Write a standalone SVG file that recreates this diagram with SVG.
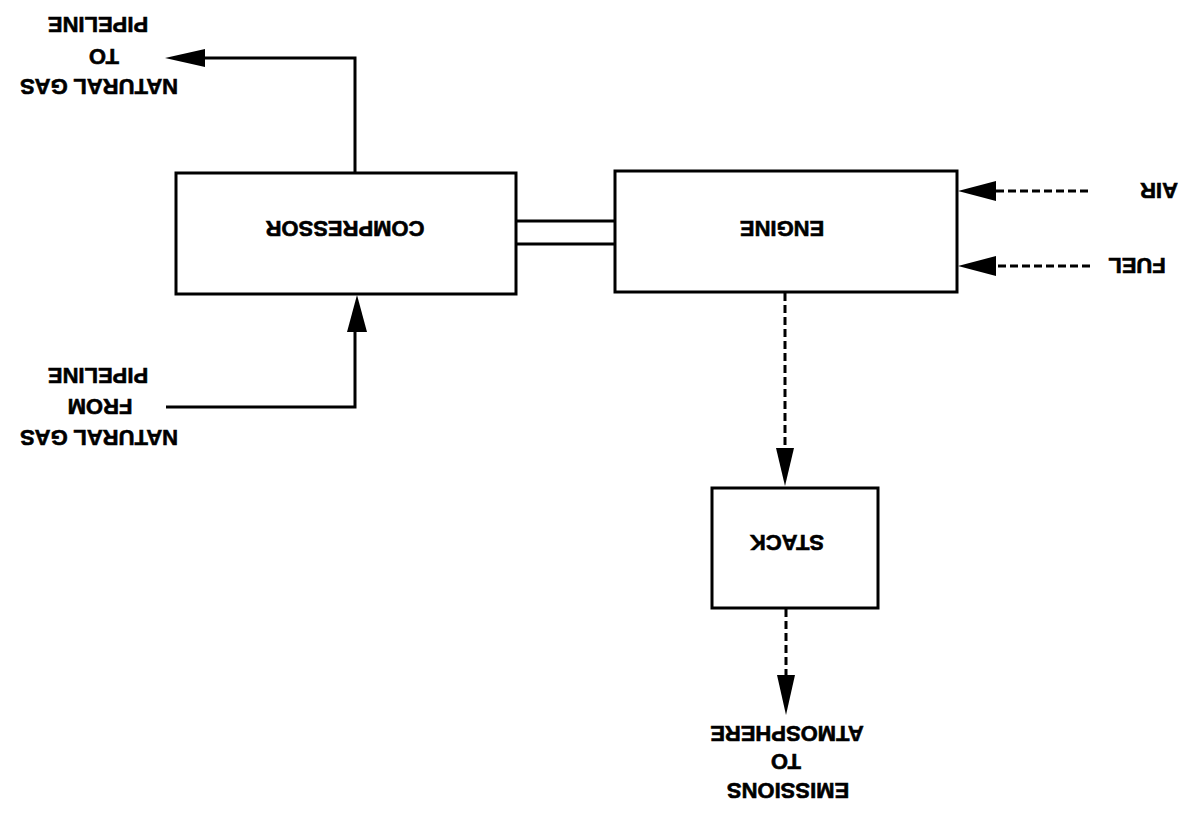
<svg xmlns="http://www.w3.org/2000/svg" width="1179" height="816" viewBox="0 0 1179 816">
<style>
.box{fill:#fff;stroke:#000;stroke-width:3}
.ln{fill:none;stroke:#000;stroke-width:3}
.dash{fill:none;stroke:#000;stroke-width:3;stroke-dasharray:8 4}
.t{font-family:"Liberation Sans",Arial,sans-serif;font-weight:bold;font-size:22px;fill:#000;stroke:#000;stroke-width:0.6;text-anchor:middle}
.ah{fill:#000}
</style>
<rect width="1179" height="816" fill="#fff"/>
<g id="connectors">
  <path class="ln" d="M355,173 V58 H200"/>
  <polygon class="ah" points="165,58 205,49 205,67"/>
  <path class="ln" d="M166,407 H355 V330"/>
  <polygon class="ah" points="357,295 347,332 367,332"/>
  <path class="ln" d="M516,221 H615 M516,244 H615"/>
  <path class="dash" d="M1088,191 H995"/>
  <polygon class="ah" points="958,191 996,181 996,201"/>
  <path class="dash" d="M1090,266 H995"/>
  <polygon class="ah" points="958,266 996,256 996,276"/>
  <path class="dash" d="M785,293 V450"/>
  <polygon class="ah" points="785,486 776,448 794,448"/>
  <path class="dash" d="M786,609 V678"/>
  <polygon class="ah" points="786,715 777,675 795,675"/>
</g>
<g id="compressor">
  <rect class="box" x="176" y="173" width="340" height="121"/>
  <text class="t" x="345" y="237" transform="rotate(180 345 229)">COMPRESSOR</text>
</g>
<g id="engine">
  <rect class="box" x="615" y="171" width="342" height="121"/>
  <text class="t" x="782" y="237" transform="rotate(180 782 229)">ENGINE</text>
</g>
<g id="stack">
  <rect class="box" x="712" y="488" width="166" height="120"/>
  <text class="t" x="787" y="551" transform="rotate(180 787 543)">STACK</text>
</g>
<g id="label-to-pipeline">
  <text class="t" x="98" y="33" transform="rotate(180 98 25)">PIPELINE</text>
  <text class="t" x="104" y="65" transform="rotate(180 104 57)">TO</text>
  <text class="t" x="99" y="95" transform="rotate(180 99 87)">NATURAL GAS</text>
</g>
<g id="label-from-pipeline">
  <text class="t" x="98" y="384" transform="rotate(180 98 376)">PIPELINE</text>
  <text class="t" x="100" y="415" transform="rotate(180 100 407)">FROM</text>
  <text class="t" x="99" y="446" transform="rotate(180 99 438)">NATURAL GAS</text>
</g>
<g id="label-air">
  <text class="t" x="1159" y="199" transform="rotate(180 1159 191)">AIR</text>
</g>
<g id="label-fuel">
  <text class="t" x="1137" y="274" transform="rotate(180 1137 266)">FUEL</text>
</g>
<g id="label-emissions">
  <text class="t" x="787" y="742" transform="rotate(180 787 734)">ATMOSPHERE</text>
  <text class="t" x="786" y="770" transform="rotate(180 786 762)">TO</text>
  <text class="t" x="788" y="799" transform="rotate(180 788 791)">EMISSIONS</text>
</g>
</svg>
